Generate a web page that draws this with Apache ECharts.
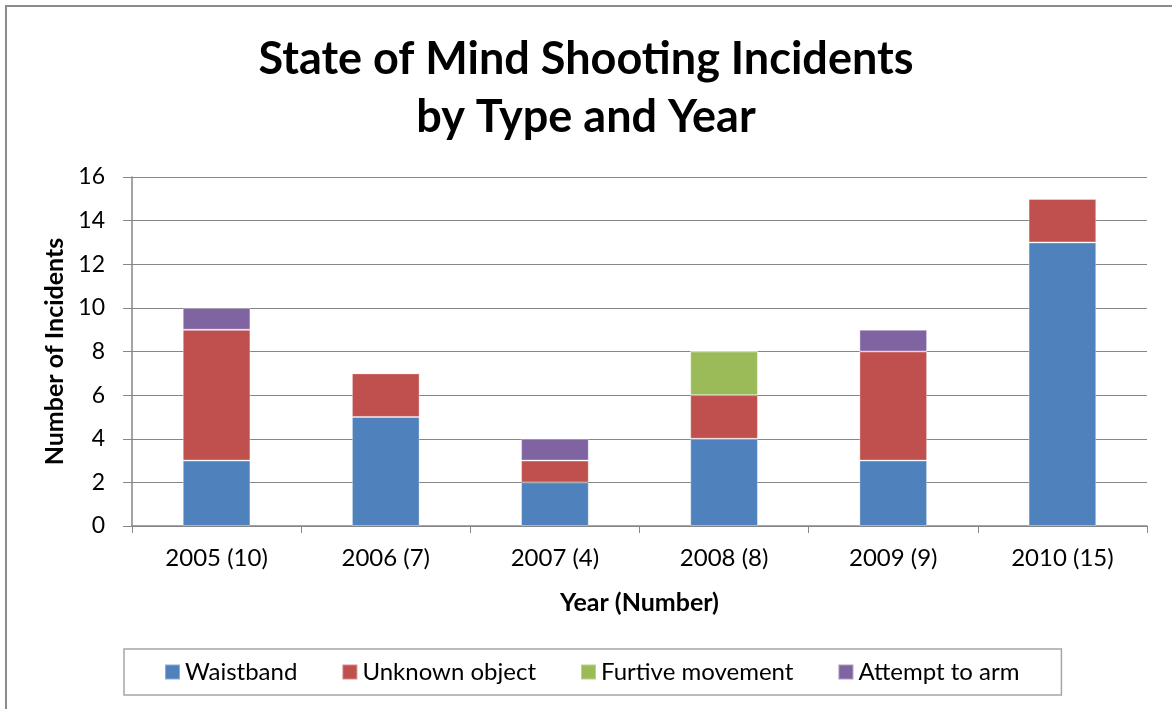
<!DOCTYPE html>
<html><head><meta charset="utf-8">
<script src="https://cdn.jsdelivr.net/npm/echarts@6/dist/echarts.min.js"></script>
<style>html,body{margin:0;padding:0;background:#fff}#c{width:1172px;height:709px}</style>
</head><body><div id="c"></div>
<script>
const categories = ['2005 (10)', '2006 (7)', '2007 (4)', '2008 (8)', '2009 (9)', '2010 (15)'];
const waistband = [3, 5, 2, 4, 3, 13];
const unknownObject = [6, 2, 1, 2, 5, 2];
const furtiveMovement = [0, 0, 0, 2, 0, 0];
const attemptToArm = [1, 0, 1, 0, 1, 0];
const seriesNames = ['Waistband', 'Unknown object', 'Furtive movement', 'Attempt to arm'];
const colors = ['#4F81BD', '#C0504D', '#9BBB59', '#8064A2'];
const FONT = 'Lato';
const chart = echarts.init(document.getElementById('c'), null, {renderer: 'canvas'});
const mk = (name, data, color) => ({
  name, type: 'bar', stack: 'total', data, barWidth: '40%',
  itemStyle: {color, borderColor: 'rgba(255,255,255,0.35)', borderWidth: 1},
  emphasis: {disabled: true}
});
chart.setOption({
  animation: false,
  textStyle: {fontFamily: FONT},
  title: {
    text: 'State of Mind Shooting Incidents\nby Type and Year',
    left: 'center', top: 25,
    textStyle: {fontFamily: FONT, fontSize: 45, fontWeight: 'bold', color: '#000', lineHeight: 58}
  },
  graphic: [{type: 'rect', shape: {x: 6, y: 6, width: 1180, height: 720}, style: {fill: 'none', stroke: '#8c8c8c', lineWidth: 2}, silent: true}],
  grid: {left: 132, right: 25, top: 177, bottom: 183, containLabel: false},
  legend: {
    data: seriesNames, left: 124, top: 649,
    padding: [11, 42, 11, 40], itemWidth: 15, itemHeight: 15, itemGap: 44,
    borderColor: '#a6a6a6', borderWidth: 1.5,
    textStyle: {fontFamily: FONT, fontSize: 24, color: '#000'},
    icon: 'rect'
  },
  xAxis: {
    type: 'category', data: categories,
    name: 'Year (Number)', nameLocation: 'middle', nameGap: 64,
    nameTextStyle: {fontFamily: FONT, fontSize: 25, fontWeight: 'bold', color: '#000'},
    axisLine: {lineStyle: {color: '#868686', width: 1.5}},
    axisTick: {show: true, length: 7, lineStyle: {color: '#868686'}},
    axisLabel: {fontFamily: FONT, fontSize: 24, color: '#000', margin: 20}
  },
  yAxis: {
    type: 'value', min: 0, max: 16, interval: 2,
    name: 'Number of Incidents', nameLocation: 'middle', nameGap: 62,
    nameTextStyle: {fontFamily: FONT, fontSize: 25, fontWeight: 'bold', color: '#000'},
    axisLine: {show: true, lineStyle: {color: '#868686', width: 1.5}},
    axisTick: {show: true, length: 9, lineStyle: {color: '#868686'}},
    axisLabel: {fontFamily: FONT, fontSize: 23, color: '#000', margin: 27},
    splitLine: {lineStyle: {color: '#868686', width: 1.2}}
  },
  series: [
    mk(seriesNames[0], waistband, colors[0]),
    mk(seriesNames[1], unknownObject, colors[1]),
    mk(seriesNames[2], furtiveMovement, colors[2]),
    mk(seriesNames[3], attemptToArm, colors[3])
  ]
});
</script></body></html>
